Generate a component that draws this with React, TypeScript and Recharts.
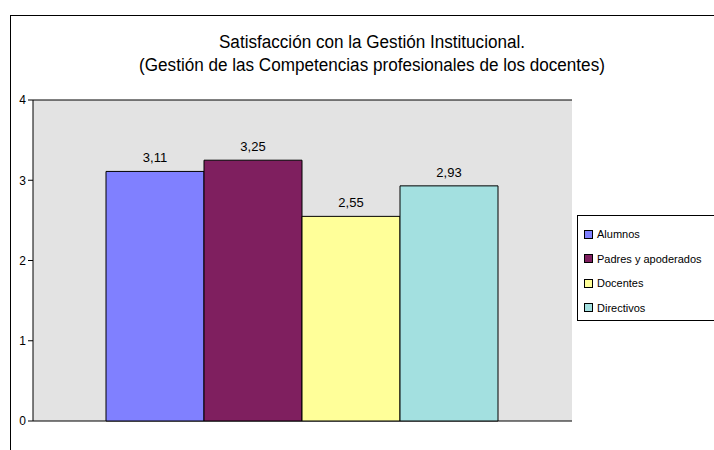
import { BarChart, Bar, XAxis, YAxis, CartesianGrid, LabelList } from 'recharts';

document.body.style.margin = '0';

const SERIES_NAMES = ['Alumnos', 'Padres y apoderados', 'Docentes', 'Directivos'];
const SERIES_KEYS = ['alumnos', 'padres', 'docentes', 'directivos'];
const SERIES_VALUES = [3.11, 3.25, 2.55, 2.93];
const SERIES_COLORS = ['#8080FF', '#7F1F5F', '#FFFF99', '#A3E0E0'];
const Y_TICKS = [0, 1, 2, 3, 4];
const TITLE_LINES = [
  'Satisfacción con la Gestión Institucional.',
  '(Gestión de las Competencias profesionales de los docentes)',
];

const FONT = '"Liberation Sans", Arial, sans-serif';

// one category, four series side by side
const row: Record<string, string | number> = { group: '' };
SERIES_KEYS.forEach((k, i) => {
  row[k] = SERIES_VALUES[i];
});
const data = [row];

const fmt = (v: unknown) => (typeof v === 'number' ? v.toFixed(2).replace('.', ',') : String(v));

export default function App() {
  return (
    <div style={{ position: 'relative', width: 714, height: 450, background: '#fff', fontFamily: FONT, overflow: 'hidden' }}>
      {/* outer chart frame */}
      <div style={{ position: 'absolute', left: 10, top: 15, width: 720, height: 450, borderLeft: '1px solid #000', borderTop: '1px solid #000' }} />

      <div
        style={{
          position: 'absolute',
          left: 22,
          top: 31,
          width: 700,
          textAlign: 'center',
          fontSize: 18,
          lineHeight: '23px',
          color: '#000',
          transform: 'scaleX(0.95)',
          transformOrigin: '350px 0',
        }}
      >
        {TITLE_LINES.map((t) => (
          <div key={t}>{t}</div>
        ))}
      </div>

      <div style={{ position: 'absolute', left: 0, top: 0 }}>
        <BarChart
          width={714}
          height={450}
          data={data}
          margin={{ top: 100, right: 142, left: 10, bottom: 29 }}
          barCategoryGap={73}
          barGap={0}
        >
          <CartesianGrid vertical={false} stroke="#000" fill="#E3E3E3" fillOpacity={1} />
          <XAxis dataKey="group" xAxisId="bottom" height={0} tick={false} tickLine={false} axisLine={{ stroke: '#555', strokeWidth: 2 }} />
          <XAxis dataKey="group" xAxisId="top" orientation="top" height={0} tick={false} tickLine={false} axisLine={{ stroke: '#808080' }} />
          <YAxis
            yAxisId="left"
            domain={[0, 4]}
            ticks={Y_TICKS}
            width={23}
            tickSize={5}
            tick={{ fill: '#000', fontSize: 12, fontFamily: FONT }}
            tickLine={{ stroke: '#000' }}
            axisLine={{ stroke: '#000' }}
          />
          <YAxis yAxisId="right" orientation="right" domain={[0, 4]} width={0} tick={false} tickLine={false} axisLine={{ stroke: '#666', strokeWidth: 2 }} />
          {SERIES_KEYS.map((k, i) => (
            <Bar
              key={k}
              dataKey={k}
              name={SERIES_NAMES[i]}
              xAxisId="bottom"
              yAxisId="left"
              fill={SERIES_COLORS[i]}
              stroke="#000"
              strokeWidth={1}
              isAnimationActive={false}
            >
              <LabelList dataKey={k} position="top" offset={9} formatter={fmt} style={{ fill: '#000', fontSize: 13, fontFamily: FONT }} />
            </Bar>
          ))}
        </BarChart>
      </div>

      {/* legend */}
      <div style={{ position: 'absolute', left: 577, top: 215, width: 150, height: 106, border: '1px solid #000', background: '#fff', boxSizing: 'border-box', paddingTop: 6 }}>
        {SERIES_NAMES.map((n, i) => (
          <div key={n} style={{ display: 'flex', alignItems: 'center', height: 24.5, paddingLeft: 6, fontSize: 11, color: '#000' }}>
            <span style={{ display: 'inline-block', width: 7, height: 7, background: SERIES_COLORS[i], border: '1px solid #000', marginRight: 4 }} />
            {n}
          </div>
        ))}
      </div>
    </div>
  );
}
